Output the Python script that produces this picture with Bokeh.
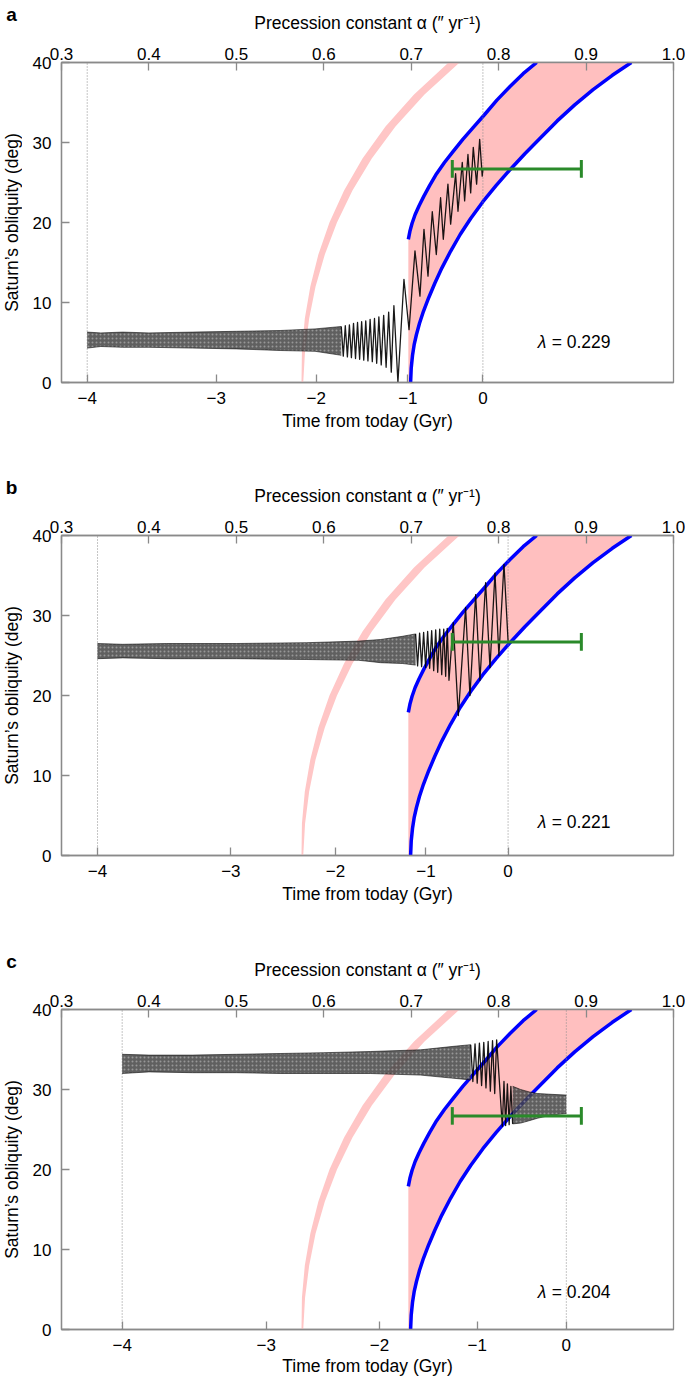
import math
from bokeh.plotting import figure
from bokeh.models import Range1d, LinearAxis, FixedTicker
from bokeh.layouts import column, row
from bokeh.embed import file_html
from bokeh.resources import INLINE
from bokeh.core.properties import value

FONT = "Liberation Sans"
FS = "17px"
FS_LAB = "17.5px"
GRAY = "#8a8a8a"

# ---------------- axes / ticks ----------------
alpha_ticks = [0.3, 0.4, 0.5, 0.6, 0.7, 0.8, 0.9, 1.0]
alpha_labels = ["0.3", "0.4", "0.5", "0.6", "0.7", "0.8", "0.9", "1.0"]
obliquity_ticks = [0, 10, 20, 30, 40]
time_labels = ["\u22124", "\u22123", "\u22122", "\u22121", "0"]
# alpha position of the time ticks (-4, -3, -2, -1, 0 Gyr) in each panel
time_pos_a = [0.3294, 0.4770, 0.5914, 0.6962, 0.7820]
time_pos_b = [0.3412, 0.4937, 0.6133, 0.7168, 0.8108]
time_pos_c = [0.3694, 0.5342, 0.6638, 0.7756, 0.8774]

# ---------------- resonance region (same in all panels) ----------------
upper_alpha = [0.6967, 0.6985, 0.7010, 0.7045, 0.7090, 0.7145, 0.7210, 0.7290, 0.7380,
               0.7480, 0.7590, 0.7710, 0.7840, 0.7980, 0.8130, 0.8280, 0.8435]
upper_obl = [17.9, 18.9, 19.9, 21.0, 22.1, 23.3, 24.6, 26.1, 27.5,
             28.9, 30.4, 31.9, 33.5, 35.3, 37.0, 38.6, 40.0]
lower_alpha = [0.6993, 0.7000, 0.7015, 0.7035, 0.7060, 0.7095, 0.7140, 0.7200, 0.7270, 0.7350,
               0.7450, 0.7560, 0.7680, 0.7820, 0.7970, 0.8130, 0.8300, 0.8480, 0.8670, 0.8870,
               0.9080, 0.9300, 0.9518]
lower_obl = [0.0, 1.8, 3.4, 4.8, 6.0, 7.4, 8.9, 10.6, 12.4, 14.3,
             16.4, 18.5, 20.5, 22.6, 24.6, 26.6, 28.6, 30.6, 32.7, 34.7,
             36.6, 38.4, 40.0]

thin_obl = [0, 4, 8, 12, 16, 20, 24, 28, 32, 36, 40]
thin_left = [0.5745, 0.5750, 0.5783, 0.5846, 0.5938, 0.6065, 0.6232, 0.6443, 0.6706, 0.7032, 0.7427]
thin_right = [0.5765, 0.5786, 0.5833, 0.5906, 0.6012, 0.6151, 0.6328, 0.6549, 0.6820, 0.7152, 0.7553]

# current Saturn obliquity with alpha uncertainty
bar_obl = 26.7
bar_alpha = [0.747, 0.8946]
bar_cap = [25.6, 27.8]

# ---------------- panel a ----------------
env_a_alpha = [0.3294, 0.345, 0.37, 0.40, 0.45, 0.50, 0.55, 0.59, 0.62]
env_a_lo = [4.3, 4.5, 4.4, 4.4, 4.3, 4.2, 4.0, 3.9, 3.4]
env_a_hi = [6.3, 6.2, 6.3, 6.2, 6.3, 6.4, 6.5, 6.7, 7.0]
zig_a_alpha = [0.6200, 0.6223, 0.6246, 0.6270, 0.6293, 0.6316, 0.6340, 0.6363, 0.6386, 0.6410,
               0.6433, 0.6457, 0.6480, 0.6505, 0.6530, 0.6555, 0.6580, 0.6605, 0.6630, 0.6657,
               0.6685, 0.6713, 0.6742, 0.6772, 0.6802, 0.6848, 0.6917, 0.6975, 0.7043, 0.7100,
               0.7146, 0.7192, 0.7241, 0.7287, 0.7336, 0.7367, 0.7420, 0.7451, 0.7508, 0.7535,
               0.7584, 0.7611, 0.7649, 0.7680, 0.7710, 0.7748, 0.7783, 0.7812, 0.7820]
zig_a_obl = [7.0, 3.3, 7.1, 3.2, 7.2, 3.1, 7.4, 3.0, 7.5, 2.9,
             7.6, 2.8, 7.7, 2.7, 7.9, 2.6, 8.0, 2.4, 8.2, 2.2,
             8.4, 1.9, 8.8, 1.3, 9.6, 0.0, 12.9, 6.6, 16.45, 10.8,
             19.15, 13.3, 21.35, 16.0, 23.1, 17.9, 24.8, 19.8, 26.1, 21.4,
             27.5, 22.7, 28.5, 23.7, 29.4, 24.8, 30.4, 25.8, 26.6]

# ---------------- panel b ----------------
env_b_alpha = [0.3412, 0.37, 0.42, 0.50, 0.58, 0.64, 0.665, 0.69, 0.705]
env_b_lo = [24.6, 24.7, 24.6, 24.6, 24.5, 24.4, 24.1, 24.0, 23.8]
env_b_hi = [26.5, 26.4, 26.5, 26.5, 26.6, 26.8, 27.0, 27.4, 27.7]
zig_b_alpha = [0.7050, 0.7073, 0.7096, 0.7119, 0.7142, 0.7165, 0.7188, 0.7211, 0.7234, 0.7257,
               0.7280, 0.7303, 0.7326, 0.7349, 0.7372, 0.7394, 0.7412, 0.7432, 0.7481, 0.7539,
               0.7622, 0.7672, 0.7737, 0.7786, 0.7851, 0.7901, 0.7958, 0.8003, 0.8061, 0.8108]
zig_b_obl = [27.7, 23.7, 27.8, 23.6, 27.9, 23.5, 28.0, 23.4, 28.1, 23.1,
             28.2, 22.9, 28.3, 22.6, 28.3, 22.4, 28.4, 21.9, 29.1, 17.5,
             31.0, 20.0, 32.6, 21.9, 34.1, 23.5, 35.3, 25.0, 36.4, 26.8]

# ---------------- panel c ----------------
env_c1_alpha = [0.3694, 0.40, 0.45, 0.50, 0.55, 0.60, 0.6535, 0.7108, 0.7489, 0.7680]
env_c1_lo = [32.0, 32.2, 32.1, 32.1, 32.0, 32.0, 32.0, 31.8, 31.4, 31.2]
env_c1_hi = [34.4, 34.3, 34.3, 34.4, 34.5, 34.6, 34.75, 34.96, 35.4, 35.6]
zig_c_alpha = [0.7680, 0.7705, 0.7730, 0.7755, 0.7780, 0.7805, 0.7830, 0.7855, 0.7880, 0.7905,
               0.7930, 0.7955, 0.7977, 0.8042, 0.8061, 0.8080, 0.8100, 0.8120, 0.8140, 0.8160]
zig_c_obl = [35.6, 31.0, 35.7, 30.8, 35.8, 30.5, 35.9, 30.2, 36.0, 29.8,
             36.1, 29.5, 36.2, 25.4, 31.0, 25.5, 30.7, 25.6, 30.4, 25.7]
env_c2_alpha = [0.8160, 0.8252, 0.8350, 0.8443, 0.8600, 0.8774]
env_c2_lo = [25.7, 25.8, 26.1, 26.4, 26.8, 27.0]
env_c2_hi = [30.4, 30.0, 29.7, 29.5, 29.4, 29.3]

panel_letters = ["a", "b", "c"]
lambda_texts = ["= 0.229", "= 0.221", "= 0.204"]
lambda_alpha = 0.8446
lambda_obl = [5.1, 4.2, 4.75]
y_title = "Saturn\u2019s obliquity (deg)"

SIDE_W = 22          # strip at the left holding the panel letter and the y title
LEFT_B = 61 - SIDE_W
FRAME_H = 321


def style_axis(ax, label, lab_standoff, axis_standoff):
    ax.axis_label = label
    ax.axis_label_text_font = FONT
    ax.axis_label_text_font_size = FS_LAB
    ax.axis_label_text_font_style = "normal"
    ax.axis_label_text_color = "black"
    ax.axis_label_standoff = axis_standoff
    ax.major_label_text_font = FONT
    ax.major_label_text_font_size = FS
    ax.major_label_text_color = "black"
    ax.major_label_standoff = lab_standoff
    ax.axis_line_color = GRAY
    ax.axis_line_width = 1.3
    ax.major_tick_line_color = GRAY
    ax.major_tick_line_width = 1.3
    ax.major_tick_in = 8
    ax.major_tick_out = 0
    ax.minor_tick_line_color = None


def side_strip(idx, height, top_b):
    # its frame is aligned with the panel frame by the row layout
    s = figure(width=SIDE_W, height=height, x_range=Range1d(0, SIDE_W), y_range=Range1d(0, 40),
               output_backend="svg", toolbar_location=None,
               x_axis_location="above", y_axis_location=None,
               min_border_left=0, min_border_right=0,
               min_border_top=top_b, min_border_bottom=0)
    s.outline_line_color = None
    s.xgrid.visible = False
    s.ygrid.visible = False
    s.background_fill_color = "white"
    s.border_fill_color = "white"
    ax = s.above[0]
    ax.ticker = FixedTicker(ticks=[])
    ax.axis_line_color = None
    ax.major_tick_line_color = None
    ax.minor_tick_line_color = None
    ax.major_label_standoff = 0
    ax.major_tick_out = 0
    ax.major_tick_in = 0
    ax.axis_label = panel_letters[idx]
    ax.axis_label_text_font = FONT
    ax.axis_label_text_font_size = "19px"
    ax.axis_label_text_font_style = "bold"
    ax.axis_label_text_color = "black"
    ax.axis_label_standoff = 38
    try:
        ax.axis_label_align = "left"
    except Exception:
        pass
    s.text(x=[11], y=[20], text=[y_title], text_font=value(FONT),
           text_font_size=value(FS_LAB), text_baseline="middle", text_align="center",
           angle=math.pi / 2, text_color="black")
    return s


def make_panel(idx, time_pos, envs, zig_x, zig_y, top_b, bot_b, xlab_standoff):
    height = top_b + FRAME_H + bot_b
    p = figure(width=685 - SIDE_W, height=height,
               x_range=Range1d(0.3, 1.0), y_range=Range1d(0, 40),
               output_backend="svg", toolbar_location=None, x_axis_location="above",
               min_border_left=LEFT_B, min_border_right=12,
               min_border_top=top_b, min_border_bottom=bot_b)
    p.xgrid.visible = False
    p.ygrid.visible = False
    p.outline_line_color = GRAY
    p.outline_line_width = 1.3
    p.background_fill_color = "white"
    p.border_fill_color = "white"

    top = p.above[0]
    top.ticker = FixedTicker(ticks=alpha_ticks)
    top.major_label_overrides = dict(zip(alpha_ticks, alpha_labels))
    style_axis(top, "Precession constant \u03b1 (\u2033 yr\u207b\u00b9)", 3, 12)

    left = p.yaxis[0]
    left.ticker = FixedTicker(ticks=obliquity_ticks)
    style_axis(left, "", 10, 0)
    left.axis_label = None

    bottom = LinearAxis(ticker=FixedTicker(ticks=time_pos),
                        major_label_overrides=dict(zip(time_pos, time_labels)))
    style_axis(bottom, "Time from today (Gyr)", 9, xlab_standoff)
    p.add_layout(bottom, "below")

    # resonance band
    band_x = upper_alpha + lower_alpha[::-1] + [upper_alpha[0]]
    band_y = upper_obl + lower_obl[::-1] + [0.0]
    p.patch(band_x, band_y, fill_color="#ffbfbf", line_color=None)
    p.harea(x1=thin_left, x2=thin_right, y=thin_obl, fill_color="#ffc6c6")
    p.line(upper_alpha, upper_obl, line_color="#0000ff", line_width=3.5, line_join="round")
    p.line(lower_alpha, lower_obl, line_color="#0000ff", line_width=3.5, line_join="round")

    # dotted lines at -4 Gyr and today
    p.segment(x0=[time_pos[0], time_pos[-1]], y0=[0, 0], x1=[time_pos[0], time_pos[-1]], y1=[40, 40],
              line_color="#8c8c8c", line_width=1, line_dash="1 2")

    # trajectory (dense oscillation band + resolved oscillations)
    for ex, elo, ehi in envs:
        p.varea(x=ex, y1=elo, y2=ehi, fill_color="#444444", fill_alpha=0.85,
                hatch_pattern="dot", hatch_color="white", hatch_alpha=0.35,
                hatch_scale=4, hatch_weight=1)
        p.line(ex, elo, line_color="black", line_width=0.8, line_alpha=0.7)
        p.line(ex, ehi, line_color="black", line_width=0.8, line_alpha=0.7)
    p.line(zig_x, zig_y, line_color="black", line_width=1.3, line_alpha=0.9, line_join="round")

    # current obliquity bar
    p.segment(x0=[bar_alpha[0]], y0=[bar_obl], x1=[bar_alpha[1]], y1=[bar_obl],
              line_color="#2a8a2a", line_width=3)
    p.segment(x0=bar_alpha, y0=[bar_cap[0]] * 2, x1=bar_alpha, y1=[bar_cap[1]] * 2,
              line_color="#2a8a2a", line_width=3)

    # lambda label
    p.text(x=[lambda_alpha], y=[lambda_obl[idx]], text=["\u03bb"], text_font=value(FONT),
           text_font_size=value(FS_LAB), text_font_style="italic", text_baseline="middle",
           text_align="left", text_color="black")
    p.text(x=[lambda_alpha], y=[lambda_obl[idx]], text=[lambda_texts[idx]], text_font=value(FONT),
           text_font_size=value(FS_LAB), text_baseline="middle", text_align="left",
           text_color="black", x_offset=14)

    return row(side_strip(idx, height, top_b), p, spacing=0)


pa = make_panel(0, time_pos_a, [(env_a_alpha, env_a_lo, env_a_hi)], zig_a_alpha, zig_a_obl, 61, 91, 4)
pb = make_panel(1, time_pos_b, [(env_b_alpha, env_b_lo, env_b_hi)], zig_b_alpha, zig_b_obl, 61, 92, 4)
pc = make_panel(2, time_pos_c, [(env_c1_alpha, env_c1_lo, env_c1_hi), (env_c2_alpha, env_c2_lo, env_c2_hi)],
                zig_c_alpha, zig_c_obl, 61, 53, 2)

layout = column(pa, pb, pc, spacing=0)
open("out.html", "w").write(file_html(layout, INLINE))
